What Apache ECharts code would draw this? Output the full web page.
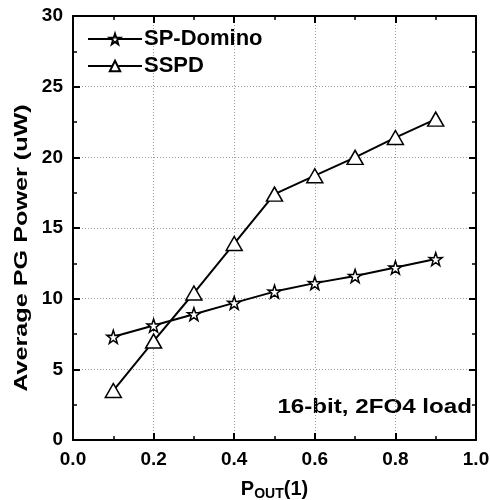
<!DOCTYPE html>
<html>
<head>
<meta charset="utf-8">
<script src="https://cdn.jsdelivr.net/npm/echarts@6/dist/echarts.min.js"></script>
<style>
  html, body { margin: 0; padding: 0; background: #fff; }
  #chart { width: 490px; height: 500px; }
</style>
</head>
<body>
<div id="chart"></div>
<script>
const pOut = [0.1, 0.2, 0.3, 0.4, 0.5, 0.6, 0.7, 0.8, 0.9];
const spDomino = [7.3, 8.1, 8.9, 9.7, 10.5, 11.1, 11.6, 12.2, 12.8];
const sspd = [3.5, 7.0, 10.4, 13.9, 17.4, 18.7, 20.0, 21.4, 22.7];
const seriesNames = ['SP-Domino', 'SSPD'];
const note = '16-bit, 2FO4 load';
const yTitle = 'Average PG Power (uW)';

const FONT = '"Liberation Sans", Arial, sans-serif';
const STAR = 'path://M50,0 L61.8,35.1 L97.6,34.5 L69,56.2 L79.4,90.5 L50,70 L20.6,90.5 L31,56.2 L2.4,34.5 L38.2,35.1 Z';

const chart = echarts.init(document.getElementById('chart'), null, { renderer: 'canvas' });

const axisLine = { show: true, onZero: false, lineStyle: { color: '#000', width: 2 } };
const tick = { show: true, inside: true, length: 7, lineStyle: { color: '#000', width: 2 } };
const minor = { show: true, splitNumber: 2, length: 4, lineStyle: { color: '#000', width: 1.5 } };
const grid = { show: true, lineStyle: { color: '#999', type: [1, 2], width: 1 } };
const tickFont = { color: '#000', fontFamily: FONT, fontWeight: 'bold', fontSize: 19 };

const option = {
    animation: false,
    grid: { left: 73, right: 14, top: 16, bottom: 60, outerBoundsMode: 'none' },
    legend: {
        data: seriesNames,
        left: 82,
        top: 23,
        orient: 'vertical',
        itemWidth: 54,
        itemHeight: 13,
        itemGap: 5,
        textStyle: { color: '#000', fontFamily: FONT, fontWeight: 'bold', fontSize: 22, lineHeight: 22, padding: [0, 0, 0, -3] },
    },
    graphic: [
        {
            type: 'text',
            x: 472,
            y: 407,
            scaleX: 1.15,
            style: { text: note, fill: '#000', font: 'bold 21px ' + FONT, textAlign: 'right', textVerticalAlign: 'middle' },
        },
        {
            type: 'text',
            x: 22,
            y: 248,
            rotation: Math.PI / 2,
            scaleX: 1.4,
            style: { text: yTitle, fill: '#000', font: 'bold 18px ' + FONT, textAlign: 'center', textVerticalAlign: 'middle' },
        },
    ],
    xAxis: [
        {
            type: 'value',
            min: 0, max: 1, interval: 0.2,
            axisLine, axisTick: tick, minorTick: minor, splitLine: grid,
            axisLabel: { ...tickFont, margin: 10, formatter: (v) => v.toFixed(1) },
            name: '{a|P}{b|OUT}{a|(1)}',
            nameLocation: 'middle',
            nameGap: 38,
            nameTextStyle: {
                rich: {
                    a: { fontFamily: FONT, fontWeight: 'bold', fontSize: 20, color: '#000' },
                    b: { fontFamily: FONT, fontWeight: 'bold', fontSize: 14, color: '#000', padding: [9, 0, 0, 0] },
                },
            },
        },
        {
            type: 'value', position: 'top',
            min: 0, max: 1, interval: 0.2,
            axisLine, axisTick: tick, minorTick: minor,
            axisLabel: { show: false }, splitLine: { show: false },
        },
    ],
    yAxis: [
        {
            type: 'value',
            min: 0, max: 30, interval: 5,
            axisLine, axisTick: tick, minorTick: minor, splitLine: grid,
            axisLabel: { ...tickFont, margin: 10 },
        },
        {
            type: 'value', position: 'right',
            min: 0, max: 30, interval: 5,
            axisLine, axisTick: tick, minorTick: minor,
            axisLabel: { show: false }, splitLine: { show: false },
        },
    ],
    series: [
        {
            name: seriesNames[0],
            type: 'line',
            data: pOut.map((x, i) => [x, spDomino[i]]),
            symbol: STAR,
            symbolSize: 13,
            lineStyle: { color: '#000', width: 2 },
            itemStyle: { color: '#fff', borderColor: '#000', borderWidth: 1.5 },
            z: 3,
        },
        {
            name: seriesNames[1],
            type: 'line',
            data: pOut.map((x, i) => [x, sspd[i]]),
            symbol: 'triangle',
            symbolSize: [16, 14],
            lineStyle: { color: '#000', width: 2 },
            itemStyle: { color: '#fff', borderColor: '#000', borderWidth: 1.5 },
            z: 3,
        },
    ],
};

chart.setOption(option);
</script>
</body>
</html>
